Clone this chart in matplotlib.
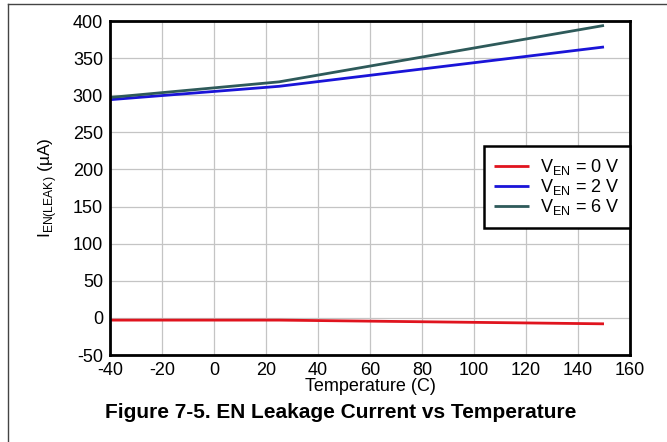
import matplotlib
matplotlib.use("Agg")
import matplotlib.pyplot as plt
from matplotlib.lines import Line2D

plt.rcParams['font.family'] = ['Liberation Sans', 'DejaVu Sans']
plt.rcParams['axes.unicode_minus'] = False

temps = [-40, 25, 150]
v0 = [-3, -3, -8]
v2 = [294, 312, 365]
v6 = [297, 318, 394]
labels = ['V$_{\\mathregular{EN}}$ = 0 V', 'V$_{\\mathregular{EN}}$ = 2 V', 'V$_{\\mathregular{EN}}$ = 6 V']
colors = ['#e0141e', '#1a14d8', '#2e5a5a']
xticks = list(range(-40, 161, 20))
yticks = list(range(-50, 401, 50))

fig = plt.figure(figsize=(6.67, 4.42), dpi=100)
ax = fig.add_axes([110/667, 87/442, 520/667, 334/442])

for y, c, l in zip([v0, v2, v6], colors, labels):
    ax.plot(temps, y, color=c, lw=2, label=l, solid_capstyle='butt')

ax.set_xlim(-40, 160)
ax.set_ylim(-50, 400)
ax.set_xticks(xticks)
ax.set_yticks(yticks)
ax.grid(True, color='#c4c4c4', lw=0.9)
ax.tick_params(length=0, labelsize=13, pad=5)
for s in ax.spines.values():
    s.set_linewidth(2)
    s.set_color('black')
ax.set_xlabel('Temperature (C)', fontsize=13, labelpad=-1)
ax.set_ylabel('I$_{\\mathregular{EN(LEAK)}}$ (\u00b5A)', fontsize=12.5, labelpad=10)

leg = ax.legend(loc='upper right', bbox_to_anchor=(1.0, 0.625), fontsize=13,
                frameon=True, fancybox=False, framealpha=1, borderaxespad=0,
                handlelength=1.9, handletextpad=0.6, labelspacing=0.0, borderpad=0.6)
leg.get_frame().set_edgecolor('black')
leg.get_frame().set_linewidth(1.8)

fig.text(341/667, 1 - 413/442, 'Figure 7-5. EN Leakage Current vs Temperature',
         ha='center', va='center', fontsize=15, fontweight='bold')

fig.add_artist(Line2D([8/667, 8/667], [0, 1 - 4/442], transform=fig.transFigure, color='#444444', lw=1))
fig.add_artist(Line2D([8/667, 1], [1 - 4/442, 1 - 4/442], transform=fig.transFigure, color='#444444', lw=1))

fig.savefig('out.png', dpi=100)
